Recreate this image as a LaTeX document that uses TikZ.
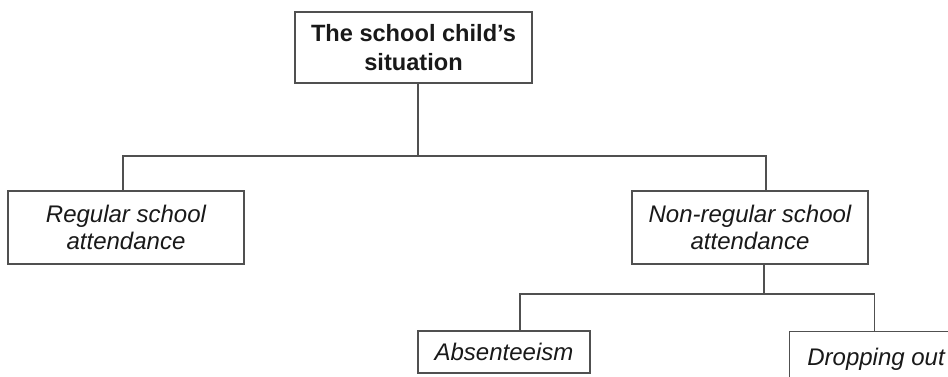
\documentclass[tikz,border=0pt]{standalone}
\usepackage{fontspec}
\setmainfont{Liberation Sans}
\definecolor{linegray}{RGB}{80,80,80}
\definecolor{txt}{RGB}{25,25,25}
\begin{document}
\begin{tikzpicture}[x=1pt,y=-1pt,
  box/.style={draw=linegray,line width=1.1pt,rectangle,inner sep=0pt,align=center,text=txt,
    font=\fontsize{24}{28}\selectfont},
  conn/.style={draw=linegray,line width=1.1pt}]
\useasboundingbox (0,0) rectangle (948,377);
\clip (0,0) rectangle (948,377);
\node[box,minimum width=237pt,minimum height=71pt,font=\fontsize{23.6}{29}\selectfont\bfseries] (top) at (413.5,47.5) {The school child’s\\situation};
\node[box,minimum width=236pt,minimum height=73pt,font=\fontsize{24}{27}\selectfont\itshape] (reg) at (126,227.5) {Regular school\\attendance};
\node[box,minimum width=236pt,minimum height=73pt,font=\fontsize{24}{27}\selectfont\itshape] (non) at (750,227.5) {Non-regular school\\attendance};
\node[box,minimum width=172pt,minimum height=42pt,font=\fontsize{24}{27}\selectfont\itshape] (abs) at (504,352) {Absenteeism};
\node[box,minimum width=200pt,minimum height=56pt,font=\fontsize{24}{27}\selectfont\itshape,anchor=north west] (drop) at (789,331) {\raisebox{6pt}{Dropping out\hspace{27pt}}};
\coordinate (j1) at (418,156);
\coordinate (j2) at (764,294);
\draw[conn] ([xshift=4.5pt]top.south) -- (j1);
\draw[conn] ([xshift=-3pt]reg.north) |- (j1) -| ([xshift=16pt]non.north);
\draw[conn] ([xshift=14pt]non.south) -- (j2);
\draw[conn] ([xshift=16pt]abs.north) |- (j2) -| ([xshift=-15pt]drop.north);
\end{tikzpicture}
\end{document}
